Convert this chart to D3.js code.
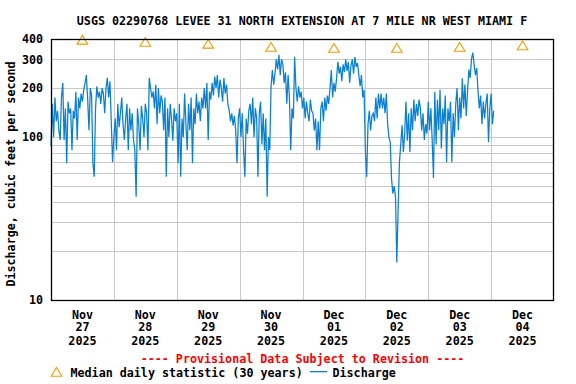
<!DOCTYPE html>
<html>
<head>
<meta charset="utf-8">
<script src="https://cdn.jsdelivr.net/npm/d3@7"></script>
<style>
  body { margin: 0; background: #fff; }
  svg text { font-family: "DejaVu Sans Mono", monospace; font-weight: bold; font-size: 11.7px; }
</style>
</head>
<body>
<div id="chart"></div>
<script>
const title = "USGS 02290768 LEVEE 31 NORTH EXTENSION AT 7 MILE NR WEST MIAMI F";
const days = ["2025-11-27", "2025-11-28", "2025-11-29", "2025-11-30", "2025-12-01", "2025-12-02", "2025-12-03", "2025-12-04"];
const medianValues = [395, 383, 373, 357, 352, 352, 357, 365];
const yTickLabels = [10, 100, 200, 300, 400];
const yGridValues = [20, 30, 40, 50, 60, 70, 80, 90, 100, 200, 300];

// discharge (cfs), one value every 30 minutes from 2025-11-27 00:00
const qNov27 = [88, 160, 100, 175, 125, 145, 110, 96, 175, 215, 96, 150, 69, 165, 140, 150, 83, 145, 130, 190, 96, 175, 150, 185, 165, 195, 215, 240, 170, 110, 200, 180, 69, 57, 150, 205, 175, 190, 160, 200, 185, 140, 200, 231, 175, 220, 125, 70];
const qNov28 = [100, 130, 83, 160, 115, 140, 175, 120, 96, 130, 160, 83, 150, 110, 140, 96, 83, 43, 150, 120, 83, 155, 130, 100, 160, 140, 83, 231, 200, 175, 190, 150, 210, 120, 200, 140, 180, 165, 110, 175, 57, 150, 100, 160, 130, 95, 150, 125];
const qNov29 = [140, 69, 160, 57, 130, 100, 185, 120, 83, 160, 110, 175, 69, 150, 120, 185, 140, 165, 125, 175, 150, 200, 150, 215, 96, 190, 170, 215, 180, 235, 200, 240, 175, 225, 200, 165, 230, 185, 210, 160, 147, 125, 140, 118, 135, 110, 69, 130];
const qNov30 = [150, 100, 140, 83, 57, 130, 105, 145, 160, 120, 175, 100, 150, 130, 57, 140, 165, 90, 140, 83, 130, 43, 100, 83, 205, 258, 210, 245, 300, 260, 320, 240, 300, 280, 215, 250, 160, 240, 175, 83, 150, 130, 310, 200, 165, 205, 175, 190];
const qDec01 = [150, 175, 130, 165, 140, 125, 170, 145, 140, 110, 130, 83, 125, 83, 150, 165, 125, 175, 145, 180, 160, 200, 258, 175, 215, 190, 230, 290, 245, 270, 220, 280, 250, 300, 255, 290, 215, 275, 300, 245, 310, 270, 285, 240, 205, 240, 175, 195];
const qDec02 = [83, 57, 120, 145, 110, 135, 140, 125, 175, 130, 185, 150, 185, 150, 175, 140, 185, 120, 100, 93, 55, 45, 50, 43, 17, 36, 70, 90, 118, 81, 105, 165, 95, 140, 81, 150, 110, 170, 125, 160, 135, 170, 150, 110, 140, 96, 120, 105];
const qDec03 = [165, 110, 150, 96, 56, 189, 90, 170, 110, 195, 85, 150, 120, 180, 70, 150, 125, 165, 70, 140, 100, 160, 200, 110, 175, 130, 230, 150, 210, 135, 190, 260, 231, 300, 330, 280, 240, 265, 190, 150, 180, 120, 165, 130, 160, 185, 93, 150];
const qDec04 = [185, 120, 145];

function init() {
    const width = 576, height = 384;
    const margin = { top: 39, right: 22, bottom: 84, left: 51 };
    const parse = d3.timeParse("%Y-%m-%d");
    const dayDates = days.map(parse);
    const t0 = dayDates[0];
    const tEnd = d3.timeDay.offset(dayDates[dayDates.length - 1], 1);

    const discharge = [].concat(qNov27, qNov28, qNov29, qNov30, qDec01, qDec02, qDec03, qDec04)
        .map((v, i) => ({ t: d3.timeMinute.offset(t0, i * 30), v: v }));
    const medians = dayDates.map((d, i) => ({ t: d3.timeHour.offset(d, 12), v: medianValues[i] }));

    const svg = d3.select("#chart").append("svg")
        .attr("width", width)
        .attr("height", height);

    const x = d3.scaleTime()
        .domain([t0, tEnd])
        .range([margin.left, width - margin.right]);
    const y = d3.scaleLog()
        .domain([10, 400])
        .range([height - margin.bottom, margin.top]);

    // grid
    svg.append("g")
        .selectAll("line")
        .data(yGridValues)
        .join("line")
        .attr("x1", margin.left).attr("x2", width - margin.right)
        .attr("y1", d => Math.round(y(d)) + 0.5).attr("y2", d => Math.round(y(d)) + 0.5)
        .attr("stroke", "#c8c8c8");
    svg.append("g")
        .selectAll("line")
        .data(dayDates.slice(1))
        .join("line")
        .attr("x1", d => Math.round(x(d)) + 0.5).attr("x2", d => Math.round(x(d)) + 0.5)
        .attr("y1", margin.top).attr("y2", height - margin.bottom)
        .attr("stroke", "#c8c8c8");

    // discharge line
    const line = d3.line()
        .x(d => x(d.t))
        .y(d => y(d.v));
    svg.append("path")
        .datum(discharge)
        .attr("d", line)
        .attr("fill", "none")
        .attr("stroke", "#0a80d0")
        .attr("stroke-width", 1.25);

    // median triangles
    const tri = "M0,-4.5L5.3,4.2L-5.3,4.2Z";
    svg.append("g")
        .selectAll("path")
        .data(medians)
        .join("path")
        .attr("transform", d => "translate(" + x(d.t) + "," + y(d.v) + ")")
        .attr("d", tri)
        .attr("fill", "none")
        .attr("stroke", "#f59a00")
        .attr("stroke-width", 1.1);

    // frame
    svg.append("rect")
        .attr("x", margin.left + 0.5)
        .attr("y", margin.top + 0.5)
        .attr("width", width - margin.left - margin.right - 1)
        .attr("height", height - margin.top - margin.bottom)
        .attr("fill", "none")
        .attr("stroke", "#000")
        .attr("stroke-width", 1.3);

    // y axis labels
    const yAxis = svg.append("g")
        .attr("transform", "translate(" + margin.left + ",0)")
        .call(d3.axisLeft(y).tickValues(yTickLabels).tickFormat(d3.format("d")).tickSize(0).tickPadding(8));
    yAxis.select(".domain").remove();
    yAxis.selectAll("text")
        .attr("fill", "#000")
        .style("font-family", "DejaVu Sans Mono")
        .style("font-size", "11.7px")
        .style("font-weight", "bold");

    // x labels: month / day / year at noon
    const fmtM = d3.timeFormat("%b"), fmtD = d3.timeFormat("%d"), fmtY = d3.timeFormat("%Y");
    const xl = svg.append("g")
        .selectAll("text")
        .data(dayDates)
        .join("text")
        .attr("text-anchor", "middle")
        .attr("fill", "#000");
    [[fmtM, 318.5], [fmtD, 331], [fmtY, 344.5]].forEach(([f, yy]) => {
        xl.append("tspan")
            .attr("x", d => x(d3.timeHour.offset(d, 12)))
            .attr("y", yy)
            .text(d => f(d));
    });

    // title
    svg.append("text")
        .attr("x", 302)
        .attr("y", 25)
        .attr("text-anchor", "middle")
        .text(title);

    // y axis title
    svg.append("text")
        .attr("transform", "translate(15,174) rotate(-90)")
        .attr("text-anchor", "middle")
        .text("Discharge, cubic feet per second");

    // provisional note
    svg.append("text")
        .attr("x", (margin.left + width - margin.right) / 2)
        .attr("y", 363)
        .attr("text-anchor", "middle")
        .attr("fill", "#ff0000")
        .text("---- Provisional Data Subject to Revision ----");

    // legend
    svg.append("path")
        .attr("transform", "translate(56.5,372)")
        .attr("d", tri)
        .attr("fill", "none")
        .attr("stroke", "#f59a00")
        .attr("stroke-width", 1.1);
    svg.append("text")
        .attr("x", 70.5).attr("y", 376.5)
        .text("Median daily statistic (30 years)");
    svg.append("rect")
        .attr("x", 310).attr("y", 371)
        .attr("width", 17).attr("height", 1.3)
        .attr("fill", "#0a80d0");
    svg.append("text")
        .attr("x", 332.5).attr("y", 376.5)
        .text("Discharge");
}

window.addEventListener('load', init);
</script>
</body>
</html>
